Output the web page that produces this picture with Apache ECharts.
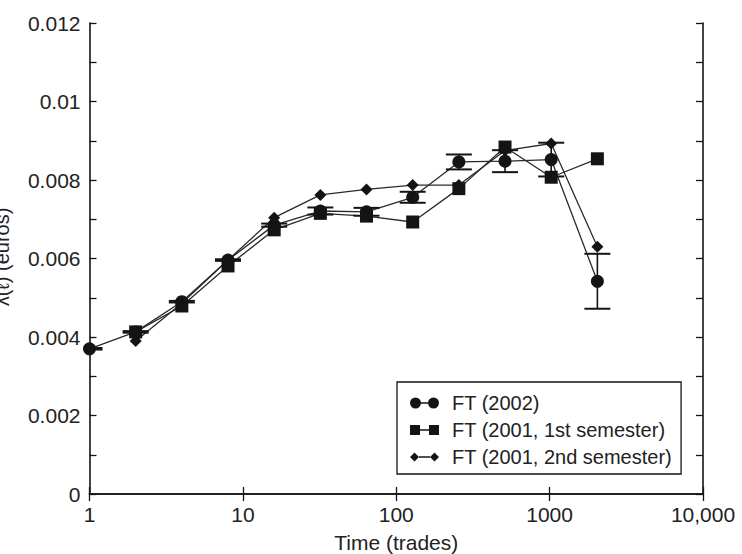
<!DOCTYPE html>
<html>
<head>
<meta charset="utf-8">
<script src="https://cdn.jsdelivr.net/npm/echarts@6/dist/echarts.min.js"></script>
<style>
html,body{margin:0;padding:0;background:#fff;}
#chart{width:742px;height:554px;}
</style>
</head>
<body>
<div id="chart"></div>
<script>
// ---- data ----
const xs = [1, 2, 4, 8, 16, 32, 64, 128, 256, 512, 1024, 2048];
const ft2002 = [0.0037, 0.00413, 0.0049, 0.00596, 0.00685, 0.00721, 0.00719, 0.00756, 0.00846, 0.00848, 0.00852, 0.00542];
const ft2002Err = [0.00002, 0.00002, 0.00002, 0.00002, 0.00004, 0.00009, 0.0001, 0.00014, 0.00019, 0.00028, 0.00043, 0.0007];
const ft2001s1 = [null, 0.00413, 0.00479, 0.00581, 0.00673, 0.00715, 0.00708, 0.00693, 0.00778, 0.00884, 0.00807, 0.00854];
const ft2001s2 = [null, 0.0039, 0.00486, 0.00596, 0.00704, 0.00762, 0.00776, 0.00787, 0.00787, 0.00875, 0.00893, 0.0063];
const seriesNames = ['FT (2002)', 'FT (2001, 1st semester)', 'FT (2001, 2nd semester)'];
const xTickValues = [1, 10, 100, 1000, 10000];
const xTickLabels = ['1', '10', '100', '1000', '10,000'];
const yTickValues = [0, 0.002, 0.004, 0.006, 0.008, 0.01, 0.012];
const yTickLabels = ['0', '0.002', '0.004', '0.006', '0.008', '0.01', '0.012'];
const xTitle = 'Time (trades)';
const yTitle = 'λ(ℓ) (euros)';

// ---- build ----
const FONT = "'Liberation Sans', Arial, sans-serif";
const INK = '#141414';
const TXT = '#222';
function pairs(arr) {
  const out = [];
  xs.forEach((x, i) => { if (arr[i] != null) out.push([x, arr[i]]); });
  return out;
}
const errData = xs.map((x, i) => [x, ft2002[i], ft2002Err[i]]);

const iconCircle = 'path://M0 5.5 A5.5 5.5 0 1 1 11 5.5 A5.5 5.5 0 1 1 0 5.5 Z M18 5.5 A5.5 5.5 0 1 1 29 5.5 A5.5 5.5 0 1 1 18 5.5 Z M10 4.8 L19 4.8 L19 6.2 L10 6.2 Z';
const iconSquare = 'path://M0 0.5 L10 0.5 L10 10.5 L0 10.5 Z M19 0.5 L29 0.5 L29 10.5 L19 10.5 Z M10 4.8 L19 4.8 L19 6.2 L10 6.2 Z';
const iconDiamond = 'path://M0 5.5 L4.5 1 L9 5.5 L4.5 10 Z M20 5.5 L24.5 1 L29 5.5 L24.5 10 Z M9 4.8 L20 4.8 L20 6.2 L9 6.2 Z';

function xFmt(v) {
  const i = xTickValues.findIndex(t => Math.abs(t - v) < 1e-6 * t);
  return i >= 0 ? xTickLabels[i] : '';
}
function yFmt(v) {
  const i = yTickValues.findIndex(t => Math.abs(t - v) < 1e-9);
  return i >= 0 ? yTickLabels[i] : '';
}

const lineSeries = (name, arr, symbol, size) => ({
  name: name,
  type: 'line',
  data: pairs(arr),
  symbol: symbol,
  symbolSize: size,
  color: INK,
  lineStyle: { color: '#2a2a2a', width: 1.3 },
  itemStyle: { color: INK },
  animation: false,
  z: 3
});

const chart = echarts.init(document.getElementById('chart'), null, { renderer: 'svg' });
chart.setOption({
  animation: false,
  backgroundColor: '#fff',
  textStyle: { fontFamily: FONT },
  grid: { left: 89.5, right: 39, top: 23, bottom: 60, containLabel: false, outerBoundsMode: 'none' },
  xAxis: [{
    type: 'log', logBase: 10, min: 1, max: 10000,
    name: xTitle, nameLocation: 'middle', nameGap: 38,
    nameTextStyle: { fontSize: 21, color: TXT, fontFamily: FONT },
    axisLine: { show: true, lineStyle: { color: INK, width: 1.6 } },
    axisTick: { show: true, inside: true, length: 7, lineStyle: { color: INK, width: 1.3 } },
    axisLabel: { fontSize: 21, color: TXT, margin: 10, formatter: xFmt, fontFamily: FONT },
    splitLine: { show: false },
    minorTick: { show: false }
  }, {
    type: 'log', logBase: 10, min: 1, max: 10000, position: 'top',
    axisLine: { show: true, lineStyle: { color: INK, width: 1.6 } },
    axisTick: { show: true, inside: true, length: 7, lineStyle: { color: INK, width: 1.3 } },
    axisLabel: { show: false },
    splitLine: { show: false }
  }],
  yAxis: [{
    type: 'value', min: 0, max: 0.012, interval: 0.002,
    axisLine: { show: true, lineStyle: { color: INK, width: 1.6 } },
    axisTick: { show: true, inside: true, length: 7, lineStyle: { color: INK, width: 1.3 } },
    minorTick: { show: true, splitNumber: 2, length: 7, lineStyle: { color: INK, width: 1.3 } },
    axisLabel: { fontSize: 21, color: TXT, margin: 9, formatter: yFmt, fontFamily: FONT },
    splitLine: { show: false }
  }, {
    type: 'value', min: 0, max: 0.012, interval: 0.002, position: 'right',
    axisLine: { show: true, lineStyle: { color: INK, width: 1.6 } },
    axisTick: { show: true, inside: true, length: 7, lineStyle: { color: INK, width: 1.3 } },
    minorTick: { show: true, splitNumber: 2, length: 7, lineStyle: { color: INK, width: 1.3 } },
    axisLabel: { show: false },
    splitLine: { show: false }
  }],
  legend: {
    orient: 'vertical',
    left: 397, top: 382,
    padding: [11, 9, 7, 13],
    itemGap: 7,
    itemWidth: 29, itemHeight: 11,
    backgroundColor: '#fff',
    borderColor: INK, borderWidth: 1.3,
    textStyle: { fontSize: 20, color: TXT, fontFamily: FONT, lineHeight: 20, padding: [0, 0, 0, 8] },
    selectedMode: false,
    data: [
      { name: seriesNames[0], icon: iconCircle },
      { name: seriesNames[1], icon: iconSquare },
      { name: seriesNames[2], icon: iconDiamond }
    ]
  },
  graphic: [{
    type: 'text',
    x: 2, y: 257,
    rotation: Math.PI / 2,
    style: {
      text: yTitle, fontSize: 20, fill: TXT, fontFamily: FONT,
      textAlign: 'center', textVerticalAlign: 'middle'
    }
  }],
  series: [
    lineSeries(seriesNames[1], ft2001s1, 'rect', 13),
    lineSeries(seriesNames[2], ft2001s2, 'diamond', [12, 12]),
    lineSeries(seriesNames[0], ft2002, 'circle', 13),
    {
      name: 'errorbars',
      type: 'custom',
      clip: true,
      data: errData,
      encode: { x: 0, y: 1 },
      z: 4,
      renderItem: function (params, api) {
        const x = api.value(0), y = api.value(1), e = api.value(2);
        const top = api.coord([x, y + e]);
        const bot = api.coord([x, y - e]);
        const hw = 13;
        const st = { stroke: INK, lineWidth: 1.6 };
        const cap = { stroke: INK, lineWidth: 2 };
        return {
          type: 'group',
          children: [
            { type: 'line', shape: { x1: top[0], y1: top[1], x2: bot[0], y2: bot[1] }, style: st },
            { type: 'line', shape: { x1: top[0] - hw, y1: top[1], x2: top[0] + hw, y2: top[1] }, style: cap },
            { type: 'line', shape: { x1: bot[0] - hw, y1: bot[1], x2: bot[0] + hw, y2: bot[1] }, style: cap }
          ]
        };
      }
    }
  ]
});
</script>
</body>
</html>
